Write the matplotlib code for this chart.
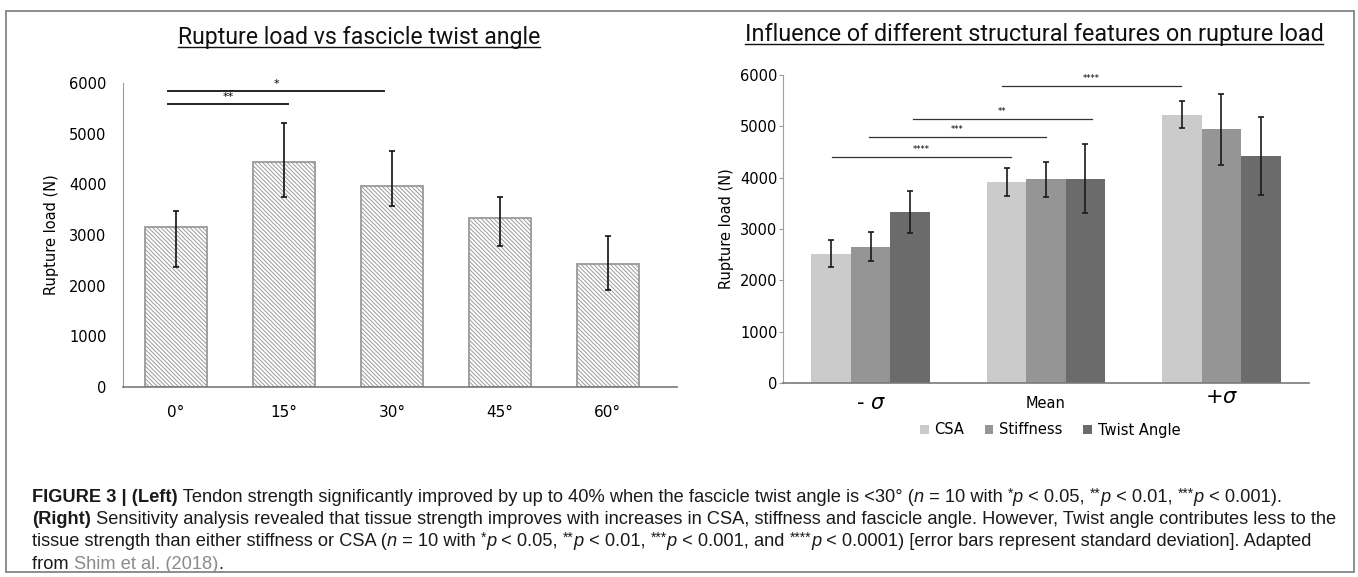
import matplotlib
matplotlib.use('Agg')
import matplotlib.pyplot as plt
from matplotlib.patches import Rectangle, Patch
from matplotlib.lines import Line2D

W, H = 1358, 577
plt.rcParams['hatch.linewidth'] = 0.7

# ---------------- data ----------------
angles = ['0°', '15°', '30°', '45°', '60°']
left_mean = [3160, 4440, 3960, 3330, 2420]
left_err_hi = [305, 770, 690, 415, 555]
left_err_lo = [785, 695, 395, 555, 515]

left_sig_x0 = [-0.07, -0.07]
left_sig_x1 = [1.93, 1.04]
left_sig_y = [5840, 5580]
left_sig_txt = ['*', '**']

groups = ['- $\\sigma$', 'Mean', '+$\\sigma$']
series = ['CSA', 'Stiffness', 'Twist Angle']
csa_mean = [2515, 3920, 5225]
csa_hi = [275, 270, 275]
csa_lo = [255, 275, 255]
stiff_mean = [2650, 3975, 4950]
stiff_hi = [290, 330, 680]
stiff_lo = [275, 350, 700]
twist_mean = [3335, 3975, 4425]
twist_hi = [410, 685, 760]
twist_lo = [410, 665, 760]

right_sig_x0 = [-0.22, -0.01, 0.24, 0.75]
right_sig_x1 = [0.80, 1.00, 1.26, 1.77]
right_sig_y = [4405, 4795, 5146, 5789]
right_sig_txt = ['****', '***', '**', '****']

colors = ['#cbcbcb', '#959595', '#6b6b6b']

# ---------------- figure ----------------
fig = plt.figure(figsize=(W / 100, H / 100), dpi=100)
renderer = fig.canvas.get_renderer()


def fx(px):
    return px / W


def fy(py):
    return 1 - py / H


# outer border
fig.add_artist(Rectangle((fx(6), fy(572)), fx(1354) - fx(6), fy(11) - fy(572),
                         transform=fig.transFigure, fill=False,
                         edgecolor='#7a7a7a', linewidth=1.2))

# ---------------- left chart ----------------
axL = fig.add_axes([fx(123), fy(387), fx(677) - fx(123), fy(83) - fy(387)])
xs = list(range(len(angles)))
axL.bar(xs, left_mean, width=0.574, color='white', edgecolor='#9a9a9a',
        linewidth=1.3, hatch='\\' * 8, zorder=2)
axL.errorbar(xs, left_mean, yerr=[left_err_lo, left_err_hi], fmt='none',
             ecolor='#111111', elinewidth=1.2, capsize=2.5, capthick=1.2, zorder=3)
axL.set_xlim(-0.49, 4.64)
axL.set_ylim(0, 6000)
axL.set_yticks([0, 1000, 2000, 3000, 4000, 5000, 6000])
axL.set_xticks(xs)
axL.set_xticklabels(angles, fontsize=11)
axL.tick_params(axis='y', length=0, pad=12, labelsize=10.5)
axL.tick_params(axis='x', length=0, pad=13)
for s in ['top', 'right']:
    axL.spines[s].set_visible(False)
axL.spines['left'].set_color('#9a9a9a')
axL.spines['bottom'].set_color('#7a7a7a')
axL.spines['bottom'].set_linewidth(1.2)
axL.set_ylabel('Rupture load (N)', fontsize=10.5, labelpad=7)
for x0, x1, y, t in zip(left_sig_x0, left_sig_x1, left_sig_y, left_sig_txt):
    axL.plot([x0, x1], [y, y], color='#222222', linewidth=1.4, clip_on=False)
    axL.text((x0 + x1) / 2, y + 40, t, ha='center', va='bottom', fontsize=8)

# ---------------- right chart ----------------
axR = fig.add_axes([fx(783), fy(383), fx(1309) - fx(783), fy(75) - fy(383)])
bw = 0.225
gx = list(range(len(groups)))
for k, (m, lo, hi) in enumerate([(csa_mean, csa_lo, csa_hi),
                                  (stiff_mean, stiff_lo, stiff_hi),
                                  (twist_mean, twist_lo, twist_hi)]):
    pos = [g + (k - 1) * bw for g in gx]
    axR.bar(pos, m, width=bw, color=colors[k], edgecolor='none', zorder=2)
    axR.errorbar(pos, m, yerr=[lo, hi], fmt='none', ecolor='#1a1a1a',
                 elinewidth=1.2, capsize=2.2, capthick=1.2, zorder=3)
axR.set_xlim(-0.5, 2.5)
axR.set_ylim(0, 6000)
axR.set_yticks([0, 1000, 2000, 3000, 4000, 5000, 6000])
axR.tick_params(axis='y', length=3, width=0.8, color='#9a9a9a', pad=1, labelsize=10.5)
axR.set_xticks([])
for s in ['top', 'right']:
    axR.spines[s].set_visible(False)
axR.spines['left'].set_color('#a0a0a0')
axR.spines['bottom'].set_color('#7a7a7a')
axR.spines['bottom'].set_linewidth(1.2)
axR.set_ylabel('Rupture load (N)', fontsize=10.5, labelpad=4)
label_sizes = [15, 10.5, 15]
label_dy = [-20, -20, -14]
for g, lab, sz, dy in zip(gx, groups, label_sizes, label_dy):
    axR.annotate(lab, xy=(g, 0), xycoords=('data', 'axes fraction'),
                 xytext=(0, dy), textcoords='offset pixels',
                 ha='center', va='center', fontsize=sz)
for x0, x1, y, t in zip(right_sig_x0, right_sig_x1, right_sig_y, right_sig_txt):
    axR.plot([x0, x1], [y, y], color='#333333', linewidth=0.9, clip_on=False)
    axR.text((x0 + x1) / 2, y + 50, t, ha='center', va='bottom', fontsize=6)

handles = [Patch(facecolor=c, edgecolor='none') for c in colors]
fig.legend(handles, series, loc='center', bbox_to_anchor=(fx(1050), fy(430)),
           ncol=3, frameon=False, handlelength=0.6, handleheight=0.6,
           handletextpad=0.4, columnspacing=1.4, fontsize=10.5)


# ---------------- titles (underlined) ----------------
def fitted_size(s, target_w, base=14, **kw):
    t = fig.text(0, 0, s, fontsize=base, **kw)
    w = t.get_window_extent(renderer=renderer).width
    t.remove()
    return base * target_w / w


def underlined_title(s, cx, baseline, target_w):
    kw = dict(family=['Roboto', 'DejaVu Sans'])
    size = fitted_size(s, target_w, **kw)
    t = fig.text(fx(cx), fy(baseline), s, ha='center', va='baseline',
                 fontsize=size, color='#111111', **kw)
    bb = t.get_window_extent(renderer=renderer)
    uy = fy(baseline + 3)
    fig.add_artist(Line2D([bb.x0 / W, bb.x1 / W], [uy, uy], transform=fig.transFigure,
                          color='#111111', linewidth=1.0))


underlined_title('Rupture load vs fascicle twist angle', 359, 44, 364)
underlined_title('Influence of different structural features on rupture load', 1034, 41, 582)

# ---------------- caption ----------------
CAP_FONT = 'Liberation Sans'
N, B, I, G, S = 'n', 'b', 'i', 'g', 's'


def style_of(code, size):
    weight = 'bold' if code == B else 'normal'
    style = 'italic' if code == I else 'normal'
    color = '#8a8a8a' if code == G else '#1a1a1a'
    sz = size * 0.75 if code == S else size
    rise = size * 0.3 if code == S else 0
    return weight, style, color, sz, rise


def run_width(s, code, size):
    weight, style, color, sz, rise = style_of(code, size)
    t1 = fig.text(0, 0, s + 'x', fontsize=sz, family=CAP_FONT, weight=weight, style=style)
    t2 = fig.text(0, 0, 'x', fontsize=sz, family=CAP_FONT, weight=weight, style=style)
    w = t1.get_window_extent(renderer=renderer).width - t2.get_window_extent(renderer=renderer).width
    t1.remove()
    t2.remove()
    return w


cap_lines = [
    [('FIGURE 3 | (Left)', B), (' Tendon strength significantly improved by up to 40% when the fascicle twist angle is <30° (', N),
     ('n', I), (' = 10 with ', N), ('*', S), ('p', I), (' < 0.05, ', N), ('**', S), ('p', I), (' < 0.01, ', N),
     ('***', S), ('p', I), (' < 0.001).', N)],
    [('(Right)', B), (' Sensitivity analysis revealed that tissue strength improves with increases in CSA, stiffness and fascicle angle. However, Twist angle contributes less to the', N)],
    [('tissue strength than either stiffness or CSA (', N), ('n', I), (' = 10 with ', N), ('*', S), ('p', I), (' < 0.05, ', N),
     ('**', S), ('p', I), (' < 0.01, ', N), ('***', S), ('p', I), (' < 0.001, and ', N), ('****', S), ('p', I),
     (' < 0.0001) [error bars represent standard deviation]. Adapted', N)],
    [('from ', N), ('Shim et al. (2018)', G), ('.', N)],
]
cap_baselines = [502, 524, 546, 569]
cap_x0 = 32
cap_targets = [1295, 1303, 1325]

base = 11
nat = sum(sum(run_width(s, c, base) for s, c in cap_lines[i]) for i in range(3))
tgt = sum(t - cap_x0 for t in cap_targets)
cap_size = base * tgt / nat

for runs, yb in zip(cap_lines, cap_baselines):
    x = cap_x0
    for s, c in runs:
        weight, style, color, sz, rise = style_of(c, cap_size)
        fig.text(fx(x), fy(yb - rise), s, fontsize=sz, family=CAP_FONT, weight=weight,
                 style=style, color=color, ha='left', va='baseline')
        x += run_width(s, c, cap_size)

fig.savefig('out.png', dpi=100)
